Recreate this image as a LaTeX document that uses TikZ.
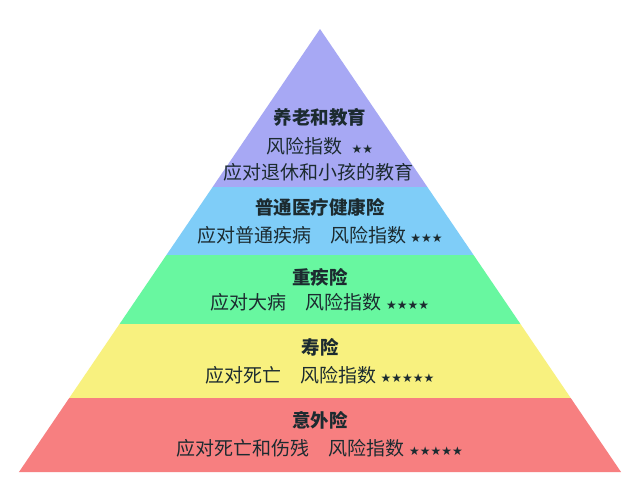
\documentclass[tikz,border=0pt]{standalone}
\usepackage{fontspec}
\newfontfamily\cjk{Noto Sans CJK SC}
\newfontfamily\sym{DejaVu Sans}
\definecolor{cpur}{HTML}{A7A8F4}
\definecolor{cblu}{HTML}{7FCDF8}
\definecolor{cgrn}{HTML}{68F7A0}
\definecolor{cyel}{HTML}{F8F17F}
\definecolor{cred}{HTML}{F77F80}
\definecolor{ctxt}{HTML}{1C2B30}
\begin{document}
\begin{tikzpicture}[x=1pt,y=-1pt,
  ttl/.style={text=ctxt,font=\cjk\bfseries\fontsize{18.5}{20}\selectfont,inner sep=0pt},
  ln/.style={text=ctxt,font=\cjk\fontsize{19}{21}\selectfont,inner sep=0pt}]
\useasboundingbox (0,0) rectangle (640,501);
\fill[white] (0,0) rectangle (640,501);
\foreach \ya/\yb/\c in {29/187/cpur,187/255/cblu,255/324/cgrn,324/398/cyel,398/472/cred}{
  \fill[\c] ({320-(\ya-29)*0.6795},\ya) -- ({320+(\ya-29)*0.6795},\ya) -- ({320+(\yb-29)*0.6795},\yb) -- ({320-(\yb-29)*0.6795},\yb) -- cycle;
}
\newcommand{\stars}[1]{{\sym\fontsize{12}{12}\selectfont #1}}
\node[ttl] (t1) at (320,117) {养老和教育};
\node[ln] (l1a) at (320,146) {风险指数\ \ \stars{★★}};
\node[ln] (l1b) at (318,172) {应对退休和小孩的教育};
\node[ttl] (t2) at (320,207) {普通医疗健康险};
\node[ln] (l2) at (320,235) {应对普通疾病\quad 风险指数\ \stars{★★★}};
\node[ttl] (t3) at (320,277) {重疾险};
\node[ln] (l3) at (320,302) {应对大病\quad 风险指数\ \stars{★★★★}};
\node[ttl] (t4) at (320,347) {寿险};
\node[ln] (l4) at (320,375) {应对死亡\quad 风险指数\ \stars{★★★★★}};
\node[ttl] (t5) at (320,420) {意外险};
\node[ln] (l5) at (320,448) {应对死亡和伤残\quad 风险指数\ \stars{★★★★★}};
\end{tikzpicture}
\end{document}
